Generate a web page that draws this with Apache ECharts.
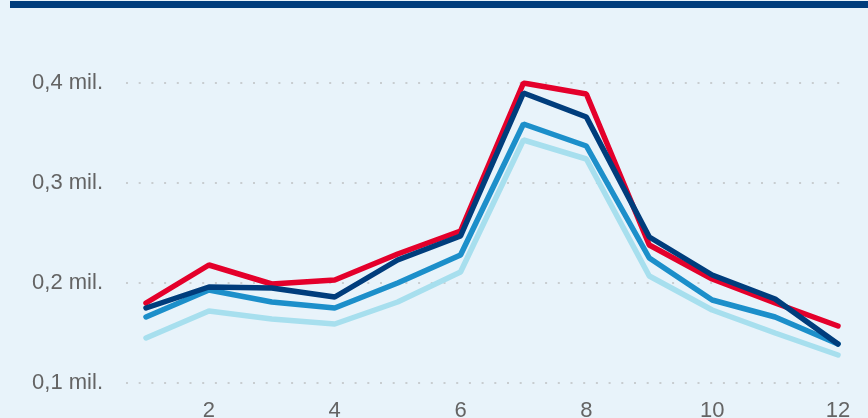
<!DOCTYPE html>
<html><head><meta charset="utf-8">
<script src="https://cdn.jsdelivr.net/npm/echarts@6/dist/echarts.min.js"></script>
<style>html,body{margin:0;padding:0;background:#e8f3fa;}#c{width:868px;height:418px;}</style>
</head><body><div id="c"></div>
<script>
const months = [1,2,3,4,5,6,7,8,9,10,11,12];
const xTicks = [2,4,6,8,10,12];
const yTicks = [0.1,0.2,0.3,0.4];
const seriesLight = [0.145,0.172,0.164,0.159,0.181,0.211,0.343,0.324,0.207,0.173,0.150,0.128];
const seriesMedium = [0.166,0.193,0.181,0.175,0.200,0.228,0.359,0.337,0.225,0.183,0.166,0.139];
const seriesRed = [0.180,0.218,0.199,0.203,0.229,0.252,0.400,0.389,0.238,0.204,0.180,0.157];
const seriesNavy = [0.175,0.196,0.195,0.186,0.223,0.247,0.390,0.366,0.246,0.208,0.184,0.139];

const pairs = arr => months.map((m,i)=>[m,arr[i]]);
const mk = (name, arr, color) => ({
  name, type:'line', data:pairs(arr), showSymbol:false, symbol:'none',
  lineStyle:{width:5.5,color:color,cap:'round'}, itemStyle:{color:color}
});
const chart = echarts.init(document.getElementById('c'), null, {renderer:'canvas'});
chart.setOption({
  animation:false,
  backgroundColor:'#e8f3fa',
  graphic:[{type:'rect',shape:{x:10,y:1,width:858,height:7},style:{fill:'#003d7c'}}],
  grid:{left:126,right:20,top:83,bottom:35,outerBoundsMode:'none',containLabel:false},
  xAxis:{type:'value',min:0.682,max:12.159,
    axisLine:{show:false},axisTick:{show:false},splitLine:{show:false},
    axisLabel:{customValues:xTicks,fontSize:22,color:'#646464',fontFamily:'Liberation Sans, Arial',margin:17}},
  yAxis:{type:'value',min:0.1,max:0.4,interval:0.1,
    axisLine:{show:false},axisTick:{show:false},
    splitLine:{show:true,lineStyle:{color:'#c8cdd0',width:2,type:[2,10.7]}},
    axisLabel:{fontSize:22,color:'#646464',fontFamily:'Liberation Sans, Arial',margin:23,padding:[5,0,0,0],
      formatter:v=>v.toFixed(1).replace('.',',')+' mil.'}},
  series:[
    mk('Řada 4',seriesLight,'#a7dfee'),
    mk('Řada 3',seriesMedium,'#1c8fca'),
    mk('Řada 1',seriesRed,'#e4002b'),
    mk('Řada 2',seriesNavy,'#003d7c')
  ]
});
</script></body></html>
